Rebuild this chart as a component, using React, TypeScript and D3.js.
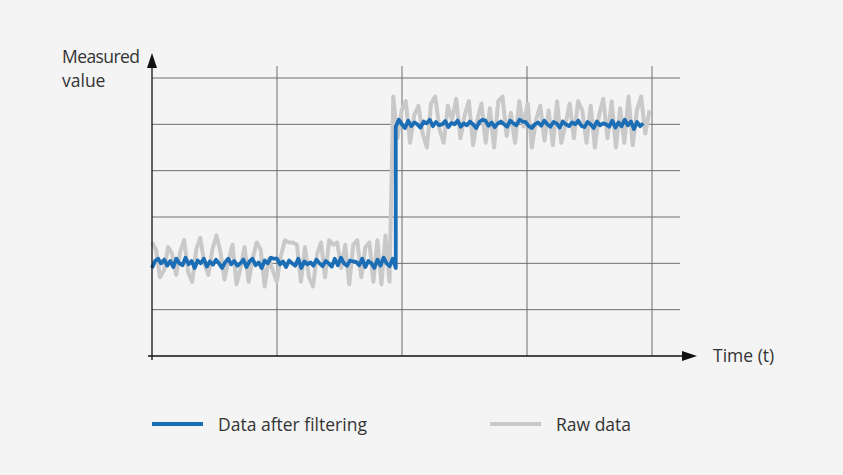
import React from "react";
import * as d3 from "d3";

const W = 843;
const H = 475;

// x grid ticks (time units) and y grid ticks (value units)
const xGridTicks = [1, 2, 3, 4];
const yGridTicks = [1, 2, 3, 4, 5, 6];

// Raw data: low level segment then high level segment
const rawLowStart = 0.0;
const rawLowEnd = 1.9;
const rawLow = [
  2.45, 2.3, 1.7, 1.85, 2.35, 2.2, 1.75, 2.25, 2.5, 1.8, 1.6, 2.3, 2.55, 2.0, 1.75, 2.3, 2.6, 2.25, 1.65, 2.05,
  2.4, 1.55, 1.9, 2.35, 1.6, 2.1, 2.45, 2.3, 1.5, 2.1, 1.85, 1.6, 2.15, 2.5, 2.45, 2.45, 2.4, 1.6, 2.35, 1.7,
  1.5, 2.2, 2.45, 1.7, 2.5, 2.4, 2.45, 1.9, 2.4, 1.55, 2.4, 2.5, 1.7, 2.35, 2.45, 1.6, 2.5, 1.55, 2.6, 1.6,
];
const rawHighStart = 1.93;
const rawHighEnd = 3.98;
const rawHigh = [
  5.6, 4.7, 5.3, 5.5, 4.6, 5.2, 5.4, 4.8, 4.5, 5.45, 5.6, 4.9, 4.6, 5.4, 5.1, 5.55, 4.7, 5.2, 5.5, 4.55,
  5.1, 5.45, 4.6, 5.35, 4.5, 5.5, 5.6, 4.75, 5.25, 4.6, 5.5, 4.95, 5.45, 4.5, 5.1, 5.4, 4.65, 5.3, 4.55, 5.5,
  4.6, 5.0, 5.45, 4.7, 5.5, 5.3, 4.6, 5.4, 4.5, 5.2, 5.55, 4.7, 5.5, 4.5, 5.35, 4.6, 5.6, 4.55, 5.3, 5.6,
  4.8, 5.3,
];

// Filtered data
const filtLowStart = 0.0;
const filtLowEnd = 1.95;
const filtLow = [
  1.9, 2.05, 2.1, 2.0, 2.08, 1.95, 2.05, 1.92, 2.1, 2.0, 1.96, 2.12, 1.98, 2.05, 1.9, 2.06, 2.0, 2.1, 1.93, 2.04,
  1.97, 2.08, 2.0, 1.9, 2.02, 2.1, 1.98, 2.05, 1.95, 2.0, 2.08, 1.92, 2.04, 2.1, 1.96, 2.02, 1.9, 2.06, 2.0, 2.12,
  2.1, 2.1, 1.98, 2.04, 1.92, 2.06, 2.0, 1.95, 2.1, 1.9, 2.04, 1.98, 2.02, 1.95, 2.08, 2.0, 1.94, 2.05, 2.0, 1.93,
  2.1, 1.96, 2.12, 2.0, 1.95, 2.06, 2.04, 2.03, 1.96, 2.1, 1.92, 2.05, 2.0, 1.9, 2.08, 1.95, 2.12, 2.0, 1.94, 2.1, 1.9,
];
const filtHighStart = 1.95;
const filtHighEnd = 3.93;
const filtHigh = [
  4.95, 5.1, 5.0, 4.92, 5.08, 4.96, 5.04, 5.0, 4.93, 5.06, 5.02, 5.1, 4.96, 5.05, 4.98, 5.0, 5.07, 4.94, 5.03, 5.0,
  5.08, 4.95, 5.02, 4.98, 5.06, 5.0, 4.92, 5.05, 5.1, 5.08, 4.97, 5.04, 4.94, 5.02, 5.06, 5.0, 4.95, 5.08, 5.02, 4.98,
  5.1, 5.06, 5.05, 4.96, 4.92, 5.0, 5.04, 4.97, 5.08, 5.0, 4.95, 5.05, 5.02, 4.93, 5.06, 5.0, 4.96, 5.04, 5.0, 5.08,
  4.97, 4.94, 5.05, 5.0, 4.92, 5.06, 4.98, 5.02, 5.0, 4.95, 5.08, 4.93, 5.04, 4.96, 5.1, 4.98, 5.06, 4.9, 5.05, 4.96, 5.02,
];

const legendItems = [
  { label: "Data after filtering", color: "#1b6db5" },
  { label: "Raw data", color: "#c9c9c9" },
];

function seg(values: number[], t0: number, t1: number): [number, number][] {
  const n = values.length;
  return values.map((v, i) => [t0 + ((t1 - t0) * i) / (n - 1), v]);
}

export default function App() {
  const x = d3.scaleLinear().domain([0, 4]).range([152, 652]);
  const y = d3.scaleLinear().domain([0, 6]).range([356, 78]);
  const line = d3
    .line<[number, number]>()
    .x((d) => x(d[0]))
    .y((d) => y(d[1]));

  const rawPts = [...seg(rawLow, rawLowStart, rawLowEnd), ...seg(rawHigh, rawHighStart, rawHighEnd)];
  const filtPts = [...seg(filtLow, filtLowStart, filtLowEnd), ...seg(filtHigh, filtHighStart, filtHighEnd)];

  const font = "'Open Sans', 'Noto Sans', sans-serif";
  const gridColor = "#6e6e6e";
  const fs = 17.5;

  return (
    <svg
      width={W}
      height={H}
      style={{ position: "absolute", left: 0, top: 0, display: "block" }}
      fontFamily={font}
    >
      <rect x={0} y={0} width={W} height={H} fill="#f4f4f4" />
      {/* grid */}
      {yGridTicks.map((t) => (
        <line key={"h" + t} x1={x(0)} x2={680} y1={y(t)} y2={y(t)} stroke={gridColor} strokeWidth={1} />
      ))}
      {xGridTicks.map((t) => (
        <line key={"v" + t} x1={x(t)} x2={x(t)} y1={66} y2={y(0)} stroke={gridColor} strokeWidth={1} />
      ))}
      {/* data */}
      <path d={line(rawPts) || ""} fill="none" stroke="#c9c9c9" strokeWidth={4} strokeLinejoin="round" />
      <path d={line(filtPts) || ""} fill="none" stroke="#1b6db5" strokeWidth={3.8} strokeLinejoin="round" />
      {/* axes */}
      <line x1={x(0)} x2={x(0)} y1={360} y2={64} stroke="#111" strokeWidth={1.3} />
      <path d={`M${x(0)},53 L${x(0) - 5},68 L${x(0) + 5},68 Z`} fill="#111" />
      <line x1={148} x2={684} y1={y(0)} y2={y(0)} stroke="#111" strokeWidth={1.3} />
      <path d={`M697,${y(0)} L682,${y(0) - 5} L682,${y(0) + 5} Z`} fill="#111" />
      {/* axis labels */}
      <text x={62} y={63} fontSize={fs} fill="#333" textLength={78}>Measured</text>
      <text x={62} y={87} fontSize={fs} fill="#333">value</text>
      <text x={713} y={362} fontSize={fs} fill="#333">Time (t)</text>
      {/* legend */}
      {legendItems.map((item, i) => {
        const lx = i === 0 ? 152 : 490;
        return (
          <g key={item.label}>
            <line x1={lx} x2={lx + 51} y1={424} y2={424} stroke={item.color} strokeWidth={3.8} />
            <text x={lx + 66} y={431} fontSize={fs} fill="#333">{item.label}</text>
          </g>
        );
      })}
    </svg>
  );
}
